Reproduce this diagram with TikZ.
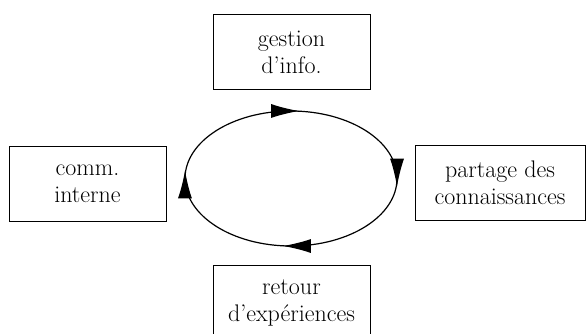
\documentclass[tikz,border=0pt]{standalone}
\usetikzlibrary{arrows.meta,decorations.markings}
\tikzset{
  box/.style={draw, line width=0.8pt, minimum height=75pt, inner sep=0pt, align=center,
    font=\fontsize{24}{27}\selectfont},
  flow/.style={line width=1.2pt, postaction={decorate}, decoration={markings,
    mark=at position 0.001 with {\arrow[xshift=8pt]{Latex[length=28pt,width=14pt]}}}}
}
\begin{document}
\begin{tikzpicture}[x=1pt,y=1pt]
\useasboundingbox (0,0) rectangle (586,-334);
\node[box, minimum width=157pt] (gi) at (291.5,-52) {gestion\\d'info.};
\node[box, minimum width=157pt] (ci) at (87.5,-183.5) {comm.\\interne};
\node[box, minimum width=170pt] (pc) at (500,-183) {partage des\\connaissances};
\node[box, minimum width=157pt] (re) at (291.5,-302.5) {retour\\d'expériences};
\coordinate (eT) at (291,-111);
\coordinate (eR) at (397,-178.5);
\coordinate (eB) at (291,-246);
\coordinate (eL) at (185,-178.5);
\draw[flow] (eT) arc[start angle=90, end angle=0, x radius=106, y radius=67.5];
\draw[flow] (eR) arc[start angle=0, end angle=-90, x radius=106, y radius=67.5];
\draw[flow] (eB) arc[start angle=-90, end angle=-180, x radius=106, y radius=67.5];
\draw[flow] (eL) arc[start angle=180, end angle=90, x radius=106, y radius=67.5];
\end{tikzpicture}
\end{document}
